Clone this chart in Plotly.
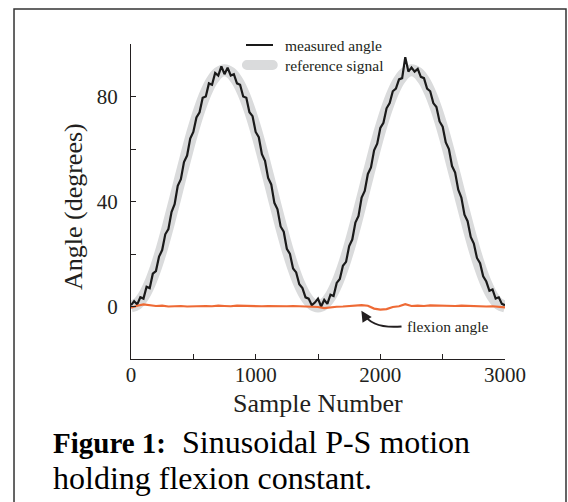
import plotly.graph_objects as go

# sample numbers
ref_samples = list(range(0, 3001, 50))
meas_samples = list(range(0, 3001, 25))
flex_samples = list(range(0, 3001, 50))

# reference signal (degrees), read every 50 samples
reference_signal = [
    0, 1, 3.9, 8.6, 14.9, 22.5, 31.1, 40.3, 49.7, 58.9, 67.5, 75.1, 81.4, 86.1, 89, 90,
    89, 86.1, 81.4, 75.1, 67.5, 58.9, 49.7, 40.3, 31.1, 22.5, 14.9, 8.6, 3.9, 1, 0,
    1, 3.9, 8.6, 14.9, 22.5, 31.1, 40.3, 49.7, 58.9, 67.5, 75.1, 81.4, 86.1, 89, 90,
    89, 86.1, 81.4, 75.1, 67.5, 58.9, 49.7, 40.3, 31.1, 22.5, 14.9, 8.6, 3.9, 1, 0,
]

# measured angle (degrees), read every 25 samples
measured_angle = [
    0.5, 2.0, 0.8, 3.5, 3.0, 7.5, 7.0, 12.5, 13.5, 19.0, 21.5, 27.5, 29.5, 36.0, 39.0, 46.0,
    48.5, 55.0, 57.5, 64.0, 66.5, 72.0, 74.0, 79.5, 80.0, 85.0, 84.5, 89.0, 88.0, 91.5, 88.5,
    91.0, 88.0, 88.5, 85.0, 84.5, 80.0, 79.5, 74.0, 72.5, 66.5, 64.5, 58.0, 55.5, 49.0, 46.5,
    39.5, 37.0, 30.5, 28.5, 22.0, 20.0, 14.5, 13.0, 8.5, 7.0, 3.5, 3.0, 0.5, 1.5, 3.0,
    0.0, 2.5, 1.0, 4.5, 4.0, 9.0, 10.5, 15.5, 17.0, 23.0, 25.5, 32.0, 34.5, 41.5, 44.0,
    50.5, 53.0, 59.5, 62.0, 68.0, 70.0, 75.5, 77.5, 82.0, 83.0, 86.5, 87.0, 95.0, 89.5, 91.0,
    89.5, 90.5, 87.5, 87.0, 83.0, 82.0, 77.5, 76.0, 70.5, 68.5, 62.5, 60.0, 53.5, 51.0, 44.5,
    41.5, 35.0, 32.5, 26.5, 24.0, 18.5, 16.5, 11.5, 9.5, 6.0, 6.5, 3.0, 3.5, 1.0, 0.5,
]

# flexion angle (degrees), read every 50 samples
flexion_angle = [
    -0.5, 0.3, 0.8, 0.5, 0.2, 0.3, 0.0, 0.1, 0.2, 0.0, 0.1, 0.3, 0.2, 0.1, 0.3, 0.2,
    0.1, 0.3, 0.2, 0.1, 0.0, 0.1, 0.2, 0.1, 0.0, 0.1, 0.2, 0.1, 0.0, -0.3, -0.2,
    -0.6, -0.3, -0.1, 0.0, 0.2, 0.3, 0.5, 0.3, -0.8, -1.2, -1.0, -0.2, 0.1, 0.9, 0.2,
    0.3, 0.2, 0.4, 0.3, 0.4, 0.3, 0.2, 0.3, 0.2, 0.1, 0.2, 0.0, 0.1, -0.2, -0.3,
]

x_ticks = [0, 500, 1000, 1500, 2000, 2500, 3000]
x_ticktext = ["0", "", "1000", "", "2000", "", "3000"]
y_ticks = [0, 20, 40, 60, 80, 100]
y_ticktext = ["0", "", "40", "", "80", ""]

ink = "#231f20"
gray = "#dadbdc"
font = "Liberation Serif, Times New Roman, serif"

fig = go.Figure()
fig.add_trace(go.Scatter(
    x=ref_samples, y=reference_signal, name="reference signal", mode="lines",
    line=dict(color=gray, width=12, shape="spline"),
))
fig.add_trace(go.Scatter(
    x=meas_samples, y=measured_angle, name="measured angle", mode="lines",
    line=dict(color="#1a1a1a", width=2.2),
))
fig.add_trace(go.Scatter(
    x=flex_samples, y=flexion_angle, name="flexion angle", mode="lines",
    line=dict(color="#ee6a35", width=2.2),
))

fig.update_layout(
    width=568, height=502,
    margin=dict(l=131, r=63, t=44, b=143),
    paper_bgcolor="white", plot_bgcolor="white",
    font=dict(family=font, color=ink),
    showlegend=False,
)

fig.update_xaxes(
    range=[0, 3000], tickvals=x_ticks, ticktext=x_ticktext,
    showgrid=False, zeroline=False, showline=True, linecolor=ink, linewidth=1.2,
    ticks="inside", ticklen=5, tickcolor=ink, tickwidth=1,
    tickfont=dict(size=21, color=ink), ticklabelstandoff=-3,
)
fig.update_yaxes(
    range=[-20, 100], tickvals=y_ticks, ticktext=y_ticktext,
    showgrid=False, zeroline=False, showline=True, linecolor=ink, linewidth=1.2,
    ticks="inside", ticklen=5, tickcolor=ink, tickwidth=1,
    tickfont=dict(size=21, color=ink), ticklabelstandoff=8,
)

# axis titles
fig.add_annotation(text="Sample Number", xref="paper", yref="paper", x=0.5, y=-0.14,
                   xanchor="center", yanchor="middle", showarrow=False,
                   font=dict(size=26, color=ink))
fig.add_annotation(text="Angle (degrees)", xref="paper", yref="paper", x=-0.155, y=0.4825,
                   xanchor="center", yanchor="middle", textangle=-90, showarrow=False,
                   font=dict(size=26, color=ink))

# legend drawn by hand: black line and gray pill
fig.add_shape(type="line", xref="paper", yref="paper", x0=0.3075, x1=0.3797, y0=0.9968, y1=0.9968,
              line=dict(color="#1a1a1a", width=2))
fig.add_shape(type="line", xref="paper", yref="paper", x0=0.3100, x1=0.3790, y0=0.9333, y1=0.9333,
              line=dict(color=gray, width=10))
for cx in [0.3100, 0.3790]:
    fig.add_shape(type="circle", xref="paper", yref="paper",
                  x0=cx - 5 / 374, x1=cx + 5 / 374, y0=0.9333 - 5 / 315, y1=0.9333 + 5 / 315,
                  fillcolor=gray, line=dict(width=0))
fig.add_annotation(text="measured angle", xref="paper", yref="paper", x=0.4064, y=0.9968,
                   xanchor="left", yanchor="middle", showarrow=False,
                   font=dict(size=15.5, color=ink))
fig.add_annotation(text="reference signal", xref="paper", yref="paper", x=0.4064, y=0.9333,
                   xanchor="left", yanchor="middle", showarrow=False,
                   font=dict(size=15.5, color=ink))

# flexion angle label with curved arrow
fig.add_shape(type="path", xref="x", yref="y",
              path="M 2170,-7.6 Q 1930,-8.5 1870,-2.8",
              line=dict(color=ink, width=2))
fig.add_annotation(x=1848, y=-1.6, xref="x", yref="y", ax=5, ay=8, text="",
                   showarrow=True, arrowhead=2, arrowsize=1.2, arrowwidth=1.8,
                   arrowcolor=ink, standoff=0)
fig.add_annotation(text="flexion angle", xref="x", yref="y", x=2200, y=-7.6,
                   xanchor="left", yanchor="middle", showarrow=False,
                   font=dict(size=15.5, color=ink))

# caption
fig.add_annotation(text="<span style='font-size:29px'><b>Figure 1:</b></span>\u00a0\u00a0Sinusoidal P-S motion",
                   xref="paper", yref="paper",
                   x=-0.2139, y=-0.2635, xanchor="left", yanchor="middle", showarrow=False,
                   font=dict(size=32, color="black"))
fig.add_annotation(text="holding flexion constant.", xref="paper", yref="paper",
                   x=-0.2139, y=-0.3778, xanchor="left", yanchor="middle", showarrow=False,
                   font=dict(size=32, color="black"))

# frame around the figure
fig.add_shape(type="rect", xref="paper", yref="paper",
              x0=-0.3128, x1=1.1631, y0=-0.52, y1=1.111,
              line=dict(color="#333333", width=1.5), layer="below")

fig.write_html("out.html", config={"displayModeBar": False},
               post_script="document.body.style.margin = '0px';")
